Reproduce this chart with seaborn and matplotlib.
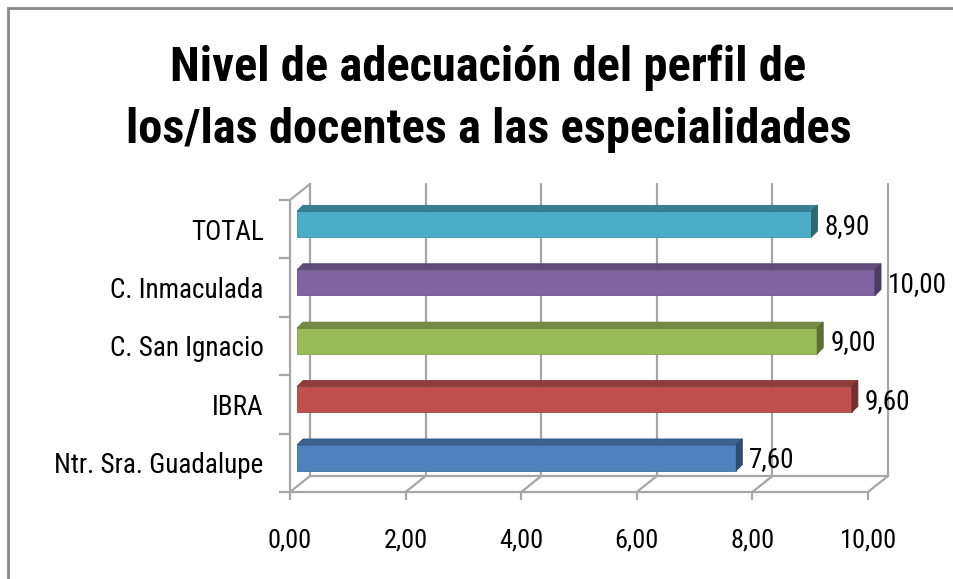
import numpy as np
import pandas as pd
import matplotlib
matplotlib.use('Agg')
import matplotlib.pyplot as plt
import seaborn as sns
from matplotlib import transforms, font_manager
from matplotlib.patches import Polygon, Rectangle

# Chart data
categories = ['TOTAL', 'C. Inmaculada', 'C. San Ignacio', 'IBRA', 'Ntr. Sra. Guadalupe']
values = [8.90, 10.00, 9.00, 9.60, 7.60]
colors = ['#4bacc6', '#8064a2', '#9bbb59', '#c0504d', '#4f81bd']
xticks = [0, 2, 4, 6, 8, 10]
title_lines = ['Nivel de adecuación del perfil de', 'los/las docentes a las especialidades']

# look for a narrow font (the original uses something like Arial Narrow)
ttf = font_manager.fontManager.ttflist
narrow_names = sorted({f.name for f in ttf if 'Narrow' in f.name or 'Condensed' in f.name})
family, stretch = None, 'normal'
for n in ['Liberation Sans Narrow', 'Arial Narrow', 'Noto Sans Condensed',
          'Roboto Condensed', 'Open Sans Condensed']:
    if n in narrow_names:
        family = n
        break
if family is None and narrow_names:
    family = narrow_names[0]
if family is None:
    if any(f.name == 'DejaVu Sans' and 'ondensed' in f.fname for f in ttf):
        family, stretch = 'DejaVu Sans', 'condensed'
    else:
        family = 'Liberation Sans'

sns.set_style('white')
plt.rcParams['font.family'] = [family, 'DejaVu Sans']
plt.rcParams['font.stretch'] = stretch
plt.rcParams['text.color'] = 'black'

DPI = 100
grid_c = '#a6a6a6'

fig = plt.figure(figsize=(9.54, 5.79), dpi=DPI)
ax = fig.add_axes([290 / 954, 87 / 579, 578 / 954, 292 / 579])

df = pd.DataFrame({'cat': categories, 'val': values})
sns.barplot(data=df, x='val', y='cat', hue='cat', palette=colors, order=categories,
            width=0.44, saturation=1, legend=False, ax=ax, zorder=3)
ax.set_xlim(0, 10)
ax.set_ylim(4.5, -0.5)
ax.set_xlabel('')
ax.set_ylabel('')

# 3d look: bars sit a bit behind the front plane
bar_tr = transforms.offset_copy(ax.transData, fig=fig, x=7, y=5, units='dots')
back_tr = transforms.offset_copy(ax.transData, fig=fig, x=20, y=16, units='dots')
ident = transforms.IdentityTransform()
depth = np.array([6, 6])


def darker(c, f):
    r, g, b = matplotlib.colors.to_rgb(c)
    return (r * f, g * f, b * f)


for p, c, v in zip(ax.patches, colors, values):
    p.set_transform(bar_tr)
    p.set_clip_on(False)
    p.set_edgecolor(darker(c, 0.85))
    p.set_linewidth(0.6)
    x0, y0 = p.get_x(), p.get_y()
    w, h = p.get_width(), p.get_height()
    tl, tr = bar_tr.transform([[x0, y0], [x0 + w, y0]])
    br = bar_tr.transform([[x0 + w, y0 + h]])[0]
    ax.add_patch(Polygon([tl, tr, tr + depth, tl + depth], closed=True, transform=ident,
                         fc=darker(c, 0.75), ec=darker(c, 0.68), lw=0.6, clip_on=False, zorder=3))
    ax.add_patch(Polygon([tr, br, br + depth, tr + depth], closed=True, transform=ident,
                         fc=darker(c, 0.6), ec=darker(c, 0.55), lw=0.6, clip_on=False, zorder=3))
    lab_tr = transforms.offset_copy(ax.transData, fig=fig, x=7 + 6 + 7, y=3, units='dots')
    ax.text(v, y0 + h / 2, f'{v:.2f}'.replace('.', ','), transform=lab_tr,
            ha='left', va='center', fontsize=19.5, color='black', zorder=4)

# back wall gridlines and floor
for t in xticks:
    ax.plot([t, t], [4.5, -0.5], transform=back_tr, color=grid_c, lw=1.6, clip_on=False, zorder=1)
    f_pt, b_pt = ax.transData.transform([[t, 4.5]])[0], back_tr.transform([[t, 4.5]])[0]
    ax.plot([f_pt[0], b_pt[0]], [f_pt[1], b_pt[1]], transform=ident, color=grid_c, lw=1.6,
            clip_on=False, zorder=1)
ax.plot([0, 10], [4.5, 4.5], transform=back_tr, color=grid_c, lw=1.6, clip_on=False, zorder=1)
f_pt, b_pt = ax.transData.transform([[0, -0.5]])[0], back_tr.transform([[0, -0.5]])[0]
ax.plot([f_pt[0], b_pt[0]], [f_pt[1], b_pt[1]], transform=ident, color=grid_c, lw=1.6,
        clip_on=False, zorder=1)

# front axes
sns.despine(ax=ax, top=True, right=True)
for s in ['left', 'bottom']:
    ax.spines[s].set_color(grid_c)
    ax.spines[s].set_linewidth(1.6)
ax.set_xticks(xticks)
ax.set_xticklabels([f'{t:.2f}'.replace('.', ',') for t in xticks], fontsize=19)
ax.set_yticks(range(len(categories)))
ax.set_yticklabels(categories, fontsize=19.5)
ax.set_yticks(np.arange(-0.5, len(categories), 1), minor=True)
ax.tick_params(axis='x', which='major', direction='out', length=6, width=1.6, color=grid_c,
               pad=20, labelcolor='black', bottom=True)
ax.tick_params(axis='y', which='major', length=0, pad=19, labelcolor='black')
ax.tick_params(axis='y', which='minor', direction='out', length=8, width=1.6, color=grid_c, left=True)

# chart border
fig.patches.append(Rectangle((8 / 954, -0.1), 1.2, (579 - 8) / 579 + 0.1, transform=fig.transFigure,
                             fill=False, ec='#878787', lw=2))

# title, two lines, sized so the second line is as wide as in the original
ttl1 = fig.text(0.512, 1 - 68 / 579, title_lines[0], ha='center', va='center', fontsize=40,
                fontweight='bold', color='black')
ttl2 = fig.text(0.512, 1 - 130 / 579, title_lines[1], ha='center', va='center', fontsize=40,
                fontweight='bold', color='black')
renderer = fig.canvas.get_renderer()
while ttl2.get_window_extent(renderer).width > 726 and ttl2.get_fontsize() > 10:
    ttl2.set_fontsize(ttl2.get_fontsize() - 0.5)
ttl1.set_fontsize(ttl2.get_fontsize())

fig.savefig('out.png', dpi=DPI)
